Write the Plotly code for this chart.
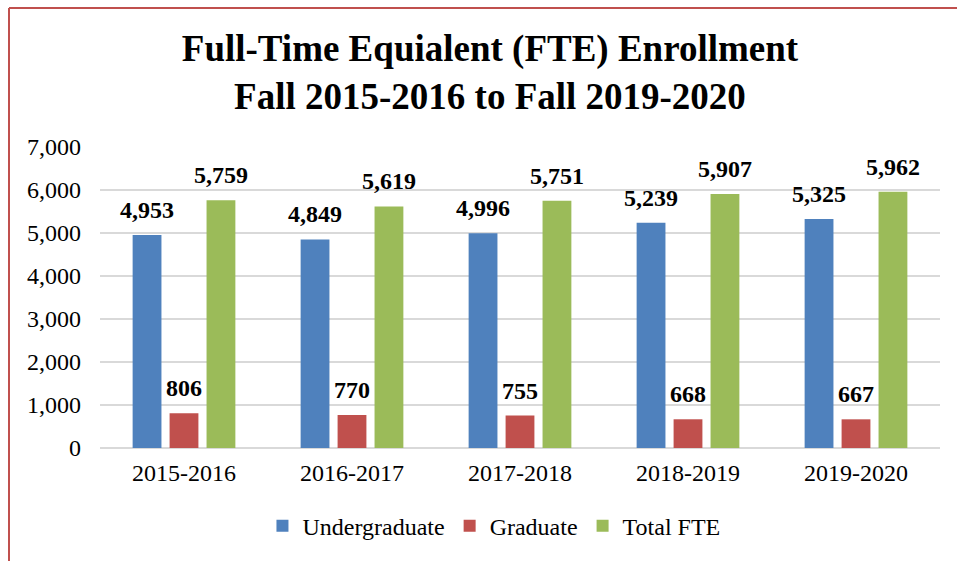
import plotly.graph_objects as go

years = ["2015-2016", "2016-2017", "2017-2018", "2018-2019", "2019-2020"]
undergrad = [4953, 4849, 4996, 5239, 5325]
graduate = [806, 770, 755, 668, 667]
total_fte = [5759, 5619, 5751, 5907, 5962]

SERIES = [
    ("Undergraduate", undergrad, "#4f81bd"),
    ("Graduate", graduate, "#c0504d"),
    ("Total FTE", total_fte, "#9bbb59"),
]
FONT = "Liberation Serif, Times New Roman, serif"

fig = go.Figure()
for name, vals, color in SERIES:
    fig.add_trace(go.Bar(
        name=name, x=years, y=vals,
        marker=dict(color=color, line=dict(width=0)),
    ))
# value labels: invisible markers grouped like the bars, text on top
for name, vals, color in SERIES:
    fig.add_trace(go.Scatter(
        x=years, y=vals, mode="markers+text", showlegend=False,
        marker=dict(size=16, opacity=0),
        text=[f"{v:,}" for v in vals], textposition="top center",
        textfont=dict(family=FONT, size=24, color="black", weight="bold"),
        cliponaxis=False, hoverinfo="skip",
    ))

# red frame around the chart (left and top edges visible)
L, R, T, B = 100, 940, 147, 448
W, H = 957, 561
px = lambda v: (v - L) / (R - L)
py = lambda v: (B - v) / (B - T)
fig.add_shape(type="line", xref="paper", yref="paper",
              x0=px(9), x1=px(9), y0=py(H + 5), y1=py(8),
              line=dict(color="#c0504d", width=2))
fig.add_shape(type="line", xref="paper", yref="paper",
              x0=px(9), x1=px(W + 5), y0=py(8), y1=py(8),
              line=dict(color="#c0504d", width=2))

fig.update_layout(
    title=dict(text="Full-Time Equialent (FTE) Enrollment<br>Fall 2015-2016 to Fall 2019-2020",
               x=0.512, xanchor="center", y=0.892, yanchor="middle",
               font=dict(family=FONT, size=37, color="black", weight="bold")),
    barmode="group", bargap=0.34, bargroupgap=0.22,
    scattermode="group", scattergap=0.34,
    width=W, height=H,
    margin=dict(l=L, r=W - R, t=T, b=H - B),
    paper_bgcolor="white", plot_bgcolor="white",
    font=dict(family=FONT, color="black"),
    xaxis=dict(tickfont=dict(size=24), showline=False, ticks="", ticklabelstandoff=8),
    yaxis=dict(range=[0, 7000], dtick=1000, tickformat=",",
               tickfont=dict(size=24), gridcolor="#d9d9d9", gridwidth=1.5,
               zeroline=True, zerolinecolor="#d9d9d9", zerolinewidth=1.5,
               ticklabelstandoff=18),
    legend=dict(orientation="h", x=0.469, xanchor="center", y=-0.26, yanchor="middle",
                font=dict(size=24), itemwidth=30, tracegroupgap=0),
    showlegend=True,
)

fig.write_html("out.html", config={"displayModeBar": False},
               post_script="document.body.style.margin='0';")
